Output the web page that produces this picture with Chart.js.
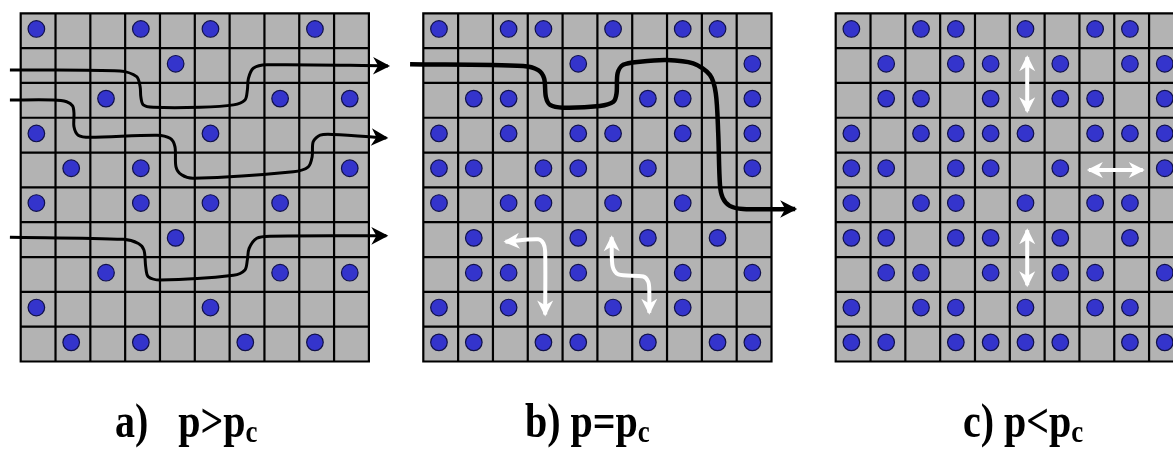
<!DOCTYPE html>
<html>
<head>
<meta charset="utf-8">
<script src="https://cdn.jsdelivr.net/npm/chart.js@4"></script>
<style>
  body { margin: 0; background: #fff; }
  #wrap { position: relative; width: 1173px; height: 463px; overflow: hidden; }
  #wrap canvas { position: absolute; left: 0; top: 0; }
  .lbl {
    position: absolute;
    top: 404px;
    font: bold 40px "Liberation Serif", "Times New Roman", serif;
    line-height: 40px;
    white-space: pre;
    color: #000;
    transform: scaleY(1.2);
    transform-origin: 0 33.5px;
  }
  .lbl .s { font-size: 27px; position: relative; top: 4px; }
</style>
</head>
<body>
<div id="wrap">
  <canvas id="grid" width="1173" height="463"></canvas>
  <div class="lbl" style="left:115px">a)   p&gt;p<span class="s">c</span></div>
  <div class="lbl" style="left:525px">b) p=p<span class="s">c</span></div>
  <div class="lbl" style="left:963px">c) p&lt;p<span class="s">c</span></div>
</div>
<script>
// occupied sites, one list of column indices per row (top row first)
const dotsA = [[0, 3, 5, 8], [4], [2, 7, 9], [0, 5], [1, 3, 9], [0, 3, 5, 7], [4], [2, 7, 9], [0, 5], [1, 3, 6, 8]];
const dotsB = [[0, 2, 3, 5, 7, 8], [4, 9], [1, 2, 6, 7, 9], [0, 2, 4, 5, 7, 9], [0, 1, 3, 4, 6, 9],
  [0, 2, 3, 5, 7], [1, 4, 6, 8], [1, 2, 4, 7, 9], [0, 2, 5, 7], [0, 1, 3, 4, 6, 8, 9]];
const dotsC = [[0, 2, 3, 5, 7, 8], [1, 3, 4, 6, 8, 9], [1, 2, 4, 6, 7, 9], [0, 2, 3, 4, 5, 7, 8, 9], [0, 1, 3, 4, 6, 9],
  [0, 2, 3, 5, 7, 8], [0, 1, 3, 4, 6, 8], [1, 2, 4, 6, 7, 9], [0, 2, 3, 5, 7, 8], [0, 1, 3, 4, 5, 6, 8, 9]];

// paths in grid units (column, row) relative to each panel
const pathA1 = [[-0.31, 1.63], [2.85, 1.66], [3.33, 1.82], [3.43, 2.11], [3.45, 2.40], [3.52, 2.63], [3.81, 2.70],
  [5.15, 2.70], [6.11, 2.63], [6.44, 2.49], [6.51, 2.20], [6.54, 1.87], [6.68, 1.58], [7.07, 1.48], [10.55, 1.51]];
const pathA2 = [[-0.31, 2.49], [0.94, 2.49], [1.32, 2.54], [1.49, 2.66], [1.53, 2.87], [1.53, 3.26], [1.65, 3.50],
  [1.99, 3.56], [3.91, 3.50], [4.29, 3.59], [4.43, 3.83], [4.46, 4.41], [4.62, 4.64], [4.96, 4.74], [7.83, 4.55],
  [8.26, 4.41], [8.37, 4.12], [8.40, 3.69], [8.60, 3.50], [8.98, 3.48], [10.50, 3.58]];
const pathA3 = [[-0.31, 6.43], [2.95, 6.49], [3.38, 6.61], [3.54, 6.80], [3.59, 7.28], [3.66, 7.56], [4.00, 7.66],
  [6.11, 7.52], [6.44, 7.37], [6.51, 7.08], [6.56, 6.75], [6.78, 6.46], [7.16, 6.40], [10.50, 6.39]];
const pathB = [[-0.38, 1.46], [2.87, 1.51], [3.30, 1.63], [3.47, 1.87], [3.52, 2.40], [3.64, 2.63], [4.02, 2.71],
  [5.07, 2.66], [5.46, 2.54], [5.55, 2.30], [5.58, 1.72], [5.74, 1.48], [6.22, 1.39], [6.99, 1.34], [7.75, 1.44],
  [8.23, 1.77], [8.40, 2.30], [8.47, 3.45], [8.52, 4.93], [8.60, 5.30], [8.80, 5.53], [9.18, 5.62], [10.68, 5.62]];
const hopB1 = [[2.36, 6.56], [3.30, 6.49], [3.45, 6.61], [3.50, 6.85], [3.50, 8.65]];
const hopB2 = [[5.41, 6.43], [5.41, 6.70], [5.44, 7.28], [5.60, 7.50], [6.32, 7.56], [6.46, 7.71], [6.49, 7.95], [6.49, 8.60]];
const hopC1 = [[5.5, 1.26], [5.5, 2.81]];
const hopC2 = [[7.27, 4.5], [8.82, 4.5]];
const hopC3 = [[5.5, 6.23], [5.5, 7.81]];

// layout
const N = 10;
const CELL = 34.82;
const panelX = [20.7, 423.3, 835.7];
const panelY = 13.3;
const DOT_SHIFT = -0.05;

function dotPoints(rows, p) {
  const pts = [];
  rows.forEach((cols, r) => {
    cols.forEach((c) => {
      pts.push({ x: panelX[p] + (c + 0.5 + DOT_SHIFT) * CELL, y: panelY + (r + 0.5 + DOT_SHIFT) * CELL });
    });
  });
  return pts;
}

function pathPoints(path, p) {
  return path.map(([c, r]) => ({ x: panelX[p] + c * CELL, y: panelY + r * CELL }));
}

const dotStyle = {
  showLine: false,
  pointRadius: 8.3,
  backgroundColor: "#3434cc",
  borderColor: "#10104a",
  borderWidth: 1.2,
};

function curve(path, p, color, width, heads) {
  return {
    data: pathPoints(path, p),
    showLine: true,
    borderColor: color,
    borderWidth: width,
    pointRadius: 0,
    tension: 0.3,
    heads: heads,
    headLength: color === "#000" ? 17 : 16,
    headWidth: color === "#000" ? 8.8 : 8,
  };
}

// gray lattice with black cell borders, drawn under the datasets
const panelPlugin = {
  id: "panels",
  beforeDatasetsDraw(chart) {
    const { ctx, scales: { x, y } } = chart;
    ctx.save();
    panelX.forEach((ox) => {
      const left = x.getPixelForValue(ox);
      const right = x.getPixelForValue(ox + N * CELL);
      const top = y.getPixelForValue(panelY);
      const bottom = y.getPixelForValue(panelY + N * CELL);
      ctx.fillStyle = "#b3b3b3";
      ctx.fillRect(left, top, right - left, bottom - top);
      ctx.strokeStyle = "#000";
      ctx.lineWidth = 2.2;
      ctx.beginPath();
      for (let k = 0; k <= N; k++) {
        const px = x.getPixelForValue(ox + k * CELL);
        const py = y.getPixelForValue(panelY + k * CELL);
        ctx.moveTo(px, top - 1);
        ctx.lineTo(px, bottom + 1);
        ctx.moveTo(left - 1, py);
        ctx.lineTo(right + 1, py);
      }
      ctx.stroke();
    });
    ctx.restore();
  },
};

// notched arrow heads at the ends of paths
const arrowPlugin = {
  id: "arrowHeads",
  afterDatasetsDraw(chart) {
    const ctx = chart.ctx;
    chart.data.datasets.forEach((ds, i) => {
      if (!ds.heads) return;
      const pts = chart.getDatasetMeta(i).data;
      const n = pts.length;
      ds.heads.forEach((end) => {
        const a = end === "end" ? pts[n - 1] : pts[0];
        const b = end === "end" ? pts[n - 2] : pts[1];
        let dx = a.x - b.x;
        let dy = a.y - b.y;
        const len = Math.hypot(dx, dy);
        dx /= len;
        dy /= len;
        const tx = a.x + dx * 2;
        const ty = a.y + dy * 2;
        const L = ds.headLength;
        const W = ds.headWidth;
        const notch = L * 0.3;
        ctx.save();
        ctx.beginPath();
        ctx.moveTo(tx, ty);
        ctx.lineTo(tx - dx * L - dy * W, ty - dy * L + dx * W);
        ctx.lineTo(tx - dx * (L - notch), ty - dy * (L - notch));
        ctx.lineTo(tx - dx * L + dy * W, ty - dy * L - dx * W);
        ctx.closePath();
        ctx.fillStyle = ds.borderColor;
        ctx.fill();
        ctx.restore();
      });
    });
  },
};

const datasets = [
  { data: dotPoints(dotsA, 0), ...dotStyle },
  { data: dotPoints(dotsB, 1), ...dotStyle },
  { data: dotPoints(dotsC, 2), ...dotStyle },
  curve(pathA1, 0, "#000", 3, ["end"]),
  curve(pathA2, 0, "#000", 3, ["end"]),
  curve(pathA3, 0, "#000", 3, ["end"]),
  curve(pathB, 1, "#000", 4.5, ["end"]),
  curve(hopB1, 1, "#fff", 4, ["start", "end"]),
  curve(hopB2, 1, "#fff", 4, ["start", "end"]),
  curve(hopC1, 2, "#fff", 4, ["start", "end"]),
  curve(hopC2, 2, "#fff", 4, ["start", "end"]),
  curve(hopC3, 2, "#fff", 4, ["start", "end"]),
];

new Chart(document.getElementById("grid"), {
  type: "scatter",
  data: { datasets },
  options: {
    responsive: false,
    animation: false,
    events: [],
    layout: { padding: 0, autoPadding: false },
    plugins: {
      legend: { display: false },
      tooltip: { enabled: false },
    },
    scales: {
      x: { type: "linear", min: 0, max: 1173, display: false },
      y: { type: "linear", min: 0, max: 463, reverse: true, display: false },
    },
  },
  plugins: [panelPlugin, arrowPlugin],
});
</script>
</body>
</html>
